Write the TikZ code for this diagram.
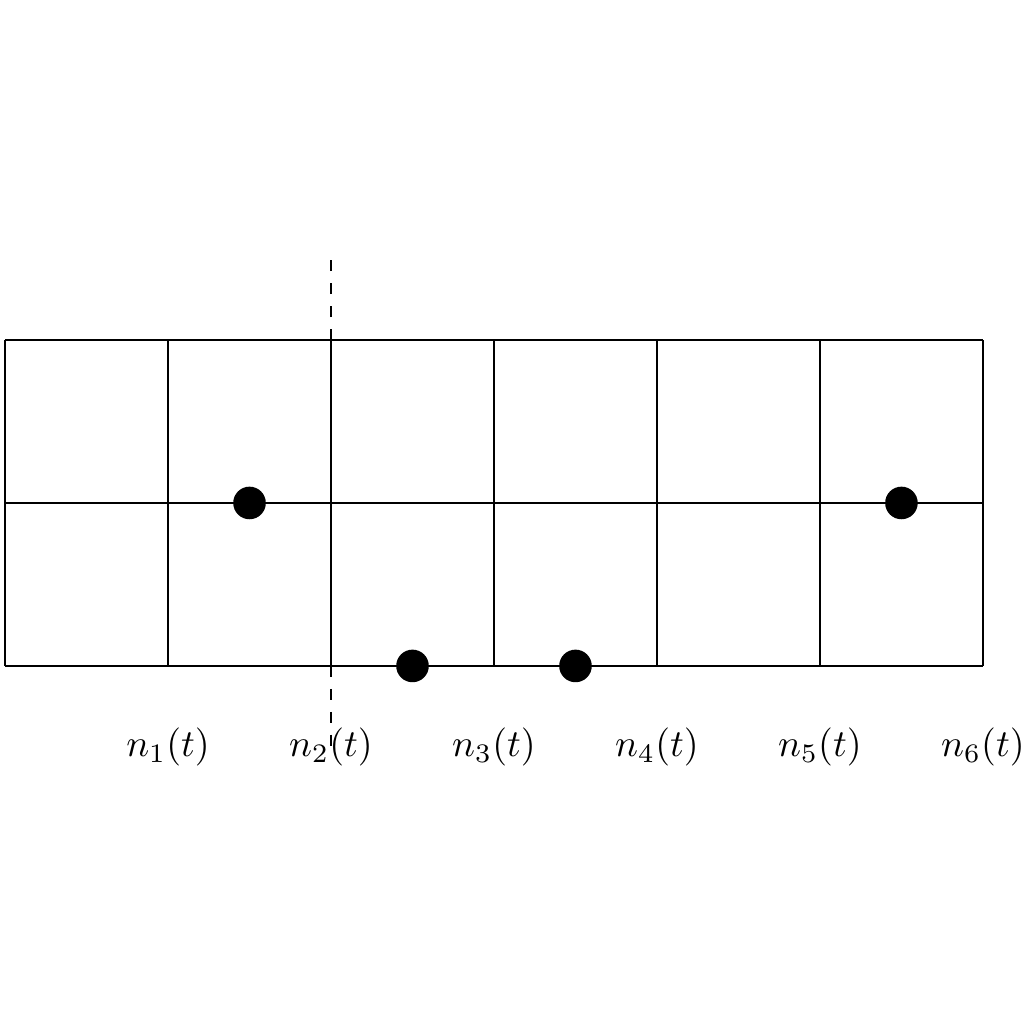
\documentclass[tikz,border=0pt]{standalone}
\usetikzlibrary{positioning}
\begin{document}
\begin{tikzpicture}[x=1.5cm, y=1.5cm]
    \useasboundingbox (-0.031,-2.196) rectangle (6.252,4.086);
    % grid
    \draw[thin] (0,0) -- (0,2);
    \draw[thin] (1,0) -- (1,2);
    \draw[semithick] (0,0) -- (6,0);
    \draw[semithick] (0,1) -- (6,1);
    \draw[semithick] (0,2) -- (6,2);
    \foreach \x in {2,...,6}
        \draw[semithick] (\x,0) -- (\x,2);
    \draw[semithick, dashed] (2,2) -- (2,2.5);
    \draw[semithick, dashed] (2,0) -- (2,-0.5);
    % particles
    \fill (1.5,1) circle (0.1);
    \fill (2.5,0) circle (0.1);
    \fill (3.5,0) circle (0.1);
    \fill (5.5,1) circle (0.1);
    % labels
    \foreach \i in {1,...,6}
        \node (n\i) at (\i,-0.5) {$n_{\i}(t)$};
\end{tikzpicture}
\end{document}
